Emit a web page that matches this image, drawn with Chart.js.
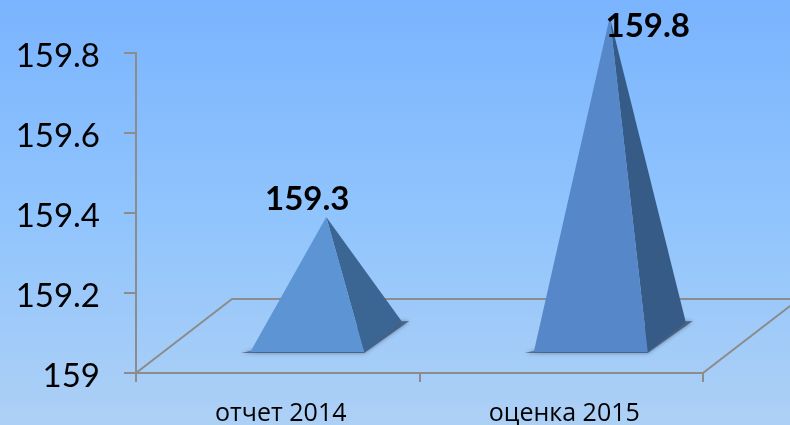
<!DOCTYPE html>
<html><head><meta charset="utf-8">
<style>html,body{margin:0;padding:0;background:#8fc3fb}canvas{display:block}#w{width:790px;height:425px;position:relative}</style>
<script src="https://cdn.jsdelivr.net/npm/chart.js@4"></script></head>
<body><div id="w"><canvas id="c"></canvas></div>
<script>
const categories = ['отчет 2014', 'оценка 2015'];
const values = [159.3, 159.8];
const yTicks = [159, 159.2, 159.4, 159.6, 159.8];
const frontColors = ['#5c94d4', '#5688c9'];
const sideColors = ['#3b6593', '#375b87'];
const labelTexts = ['159.3', '159.8'];

const AXIS = '#8c8c8c';
const FONT = 'Lato, "Open Sans", sans-serif';
const CATFONT = '"Open Sans", sans-serif';
const pyramids = {
  id: 'pyramids',
  beforeDraw(chart) {
    const { ctx, width, height } = chart;
    const g = ctx.createLinearGradient(0, 0, 0, height);
    g.addColorStop(0, '#7ab4fe');
    g.addColorStop(0.5, '#90c4fd');
    g.addColorStop(1, '#add0f5');
    ctx.fillStyle = g;
    ctx.fillRect(0, 0, width, height);
  },
  afterDatasetsDraw(chart) {
    const { ctx, chartArea: a, width } = chart;
    const bx = 96, by = -74;
    ctx.save();
    ctx.strokeStyle = AXIS; ctx.lineWidth = 2;
    ctx.beginPath();
    ctx.moveTo(a.left, a.bottom); ctx.lineTo(a.left + bx, a.bottom + by); ctx.lineTo(width, a.bottom + by);
    ctx.moveTo(a.right, a.bottom); ctx.lineTo(a.right + bx, a.bottom + by);
    ctx.stroke();
    const meta = chart.getDatasetMeta(0);
    meta.data.forEach((el, i) => {
      const w = el.width;
      const x0 = el.x + 29.5 - w / 2, x1 = x0 + w, yf = a.bottom - 21;
      const dx = 38, dy = -30;
      const apexX = x0 + w / 2 + dx / 2, apexY = el.y - 36;
      ctx.save();
      ctx.shadowColor = 'rgba(40,60,90,0.7)'; ctx.shadowBlur = 4;
      ctx.fillStyle = 'rgba(60,80,110,0.75)';
      ctx.beginPath();
      ctx.moveTo(x0 - 9, yf + 1); ctx.lineTo(x1, yf + 1); ctx.lineTo(x1 + dx + 7, yf + dy - 1); ctx.lineTo(x1 + dx - 20, yf + dy); ctx.closePath();
      ctx.fill();
      ctx.restore();
      ctx.fillStyle = sideColors[i];
      ctx.beginPath(); ctx.moveTo(x1, yf); ctx.lineTo(x1 + dx, yf + dy); ctx.lineTo(apexX, apexY); ctx.closePath(); ctx.fill();
      ctx.fillStyle = frontColors[i];
      ctx.beginPath(); ctx.moveTo(x0, yf); ctx.lineTo(x1, yf); ctx.lineTo(apexX, apexY); ctx.closePath(); ctx.fill();
    });
    ctx.fillStyle = '#000';
    ctx.font = 'bold 33px ' + FONT;
    ctx.textAlign = 'center'; ctx.textBaseline = 'middle';
    const off = [[29.5, -54], [86.5, -27]];
    meta.data.forEach((el, i) => {
      ctx.fillText(labelTexts[i], el.x + off[i][0], el.y + off[i][1]);
    });
    ctx.restore();
  }
};
new Chart(document.getElementById('c'), {
  type: 'bar',
  data: { labels: categories, datasets: [{ data: values, backgroundColor: 'rgba(0,0,0,0)', barPercentage: 0.402, categoryPercentage: 1 }] },
  options: {
    responsive: true, maintainAspectRatio: false, animation: false,
    layout: { padding: { top: 53, right: 87, left: 0, bottom: 0 } },
    plugins: { legend: { display: false }, tooltip: { enabled: false } },
    scales: {
      x: {
        offset: true,
        afterFit(s) { s.height = 52; },
        border: { color: AXIS, width: 2 },
        grid: { drawOnChartArea: false, color: AXIS, lineWidth: 2, tickLength: 9, offset: true },
        ticks: { color: '#000', font: { size: 25, family: CATFONT }, padding: 17, labelOffset: 3, maxRotation: 0 }
      },
      y: {
        min: 159, max: 159.8,
        afterBuildTicks(s) { s.ticks = yTicks.map(v => ({ value: v })); },
        afterFit(s) { s.width = 136; },
        border: { color: AXIS, width: 2 },
        grid: { drawOnChartArea: false, color: AXIS, lineWidth: 2, tickLength: 12 },
        ticks: { color: '#000', font: { size: 33, family: FONT }, padding: 24, labelOffset: 3, callback: v => String(Math.round(v * 10) / 10) }
      }
    }
  },
  plugins: [pyramids]
});
</script></body></html>
